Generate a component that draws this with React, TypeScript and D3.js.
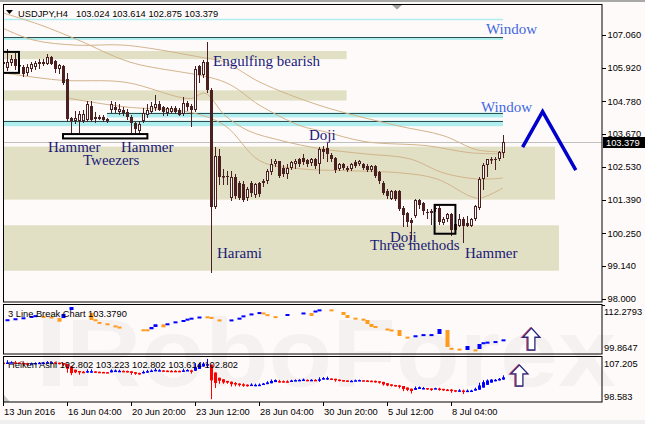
import React from 'react';
import * as d3 from 'd3';

const W = 645;
const H = 424;

// ---- USDJPY H4 OHLC (bar 0 = 13 Jun 2016 12:00) ----
const opens = [106.06,105.94,106.10,106.23,105.99,105.96,105.77,105.91,105.96,106.12,106.06,106.08,106.29,106.17,105.91,106.00,105.56,104.22,104.12,104.12,104.12,104.15,104.64,104.26,104.26,104.26,104.18,104.47,104.58,104.41,104.49,104.41,104.24,104.05,103.78,104.12,104.30,104.43,104.55,104.70,104.58,104.39,104.43,104.55,104.50,104.36,104.74,104.62,104.47,106.00,105.68,106.14,105.16,101.16,102.91,102.19,102.22,101.47,102.19,101.98,101.95,101.46,101.98,101.57,101.98,101.98,102.05,102.36,102.64,102.72,102.50,102.29,102.50,102.64,102.81,102.85,102.78,102.67,102.81,102.64,103.16,103.19,102.95,102.85,102.47,102.64,102.50,102.47,102.71,102.64,102.64,102.55,102.43,102.55,102.36,101.99,101.71,101.44,101.71,101.71,101.13,100.94,100.70,100.84,101.40,101.28,100.98,101.01,101.12,101.13,100.61,100.73,100.90,100.56,100.52,100.75,100.61,100.52,100.75,101.13,102.11,102.59,102.78,102.82,102.80,103.024];
const highs = [106.27,106.57,106.37,106.43,106.13,106.02,106.08,106.12,106.17,106.22,106.23,106.40,106.33,106.20,106.08,106.02,105.74,104.23,104.45,104.45,104.47,104.79,104.79,104.41,104.30,104.30,104.22,104.79,104.76,104.70,104.58,104.53,104.30,104.07,104.12,104.55,104.70,104.76,105.01,104.81,104.62,104.58,104.62,104.62,104.55,104.93,104.81,104.70,106.00,106.02,106.20,106.83,105.23,103.23,103.16,102.47,102.40,102.40,102.29,102.05,102.05,101.84,102.05,101.98,102.02,102.12,102.47,102.81,102.81,102.74,102.60,102.64,102.74,102.81,102.85,102.98,102.81,102.85,102.85,103.23,103.26,103.36,103.02,102.88,102.67,102.67,102.57,102.67,102.78,102.78,102.67,102.64,102.60,102.60,102.40,102.05,101.76,101.74,101.74,101.74,101.19,100.98,100.78,101.42,101.42,101.33,101.09,101.09,101.19,101.19,100.82,100.94,100.94,100.61,100.90,100.82,100.84,100.78,101.21,102.17,102.66,102.82,102.86,102.89,103.09,103.614];
const lows = [105.91,105.85,106.02,105.88,105.85,105.64,105.68,105.82,105.91,105.94,106.02,106.06,106.06,105.79,105.76,105.39,104.12,103.64,104.03,103.72,104.09,104.12,104.12,104.07,104.18,104.12,104.07,104.41,104.41,104.36,104.33,104.18,103.72,103.71,103.71,104.09,104.24,104.39,104.50,104.47,104.30,104.30,104.37,104.39,104.30,104.30,104.50,103.95,104.46,105.45,105.62,105.09,98.94,101.12,101.95,101.95,101.95,101.41,101.46,101.43,101.36,101.40,101.53,101.50,101.53,101.88,101.98,102.29,102.57,102.19,102.22,102.15,102.47,102.50,102.57,102.64,102.57,102.60,102.50,102.33,102.85,102.74,102.74,102.36,102.43,102.47,102.40,102.43,102.53,102.60,102.47,102.40,102.40,102.17,101.99,101.59,101.47,101.42,101.40,101.05,100.50,100.52,100.05,100.82,101.13,100.90,100.78,100.56,101.01,100.59,100.56,100.67,100.18,100.32,100.50,99.94,100.50,100.50,100.70,101.09,101.76,102.22,102.66,102.45,102.78,102.875];
const closes = [106.13,106.14,106.23,105.99,106.02,105.71,105.96,106.08,106.10,106.06,106.14,106.29,106.08,105.91,106.02,105.40,104.18,104.12,104.22,104.36,104.36,104.70,104.15,104.18,104.19,104.15,104.12,104.70,104.47,104.53,104.38,104.26,104.05,103.84,104.01,104.39,104.47,104.62,104.70,104.50,104.43,104.55,104.55,104.41,104.32,104.74,104.58,104.50,105.91,105.68,106.14,105.16,101.16,102.91,102.17,102.22,102.17,102.19,101.53,101.46,101.40,101.78,101.64,101.96,101.60,102.05,102.40,102.64,102.72,102.22,102.29,102.50,102.71,102.74,102.64,102.71,102.64,102.81,102.57,103.16,103.05,102.98,102.81,102.43,102.64,102.48,102.43,102.64,102.57,102.74,102.50,102.43,102.55,102.22,102.05,101.65,101.53,101.71,101.44,101.09,100.87,100.63,100.61,101.40,101.21,101.01,100.94,100.94,101.08,100.63,100.75,100.90,100.36,100.38,100.75,100.50,100.52,100.73,101.19,102.11,102.59,102.80,102.82,102.78,103.03,103.379];

const lastPrice = 103.379;
const priceTicks = [107.06, 105.92, 104.78, 103.67, 102.53, 101.39, 100.25, 99.14, 98.0];
const dateLabels = ['13 Jun 2016', '16 Jun 04:00', '20 Jun 20:00', '23 Jun 12:00', '28 Jun 04:00', '30 Jun 20:00', '5 Jul 12:00', '8 Jul 04:00'];
const dateIdx = [0, 16, 32, 48, 64, 80, 96, 112];

// support / resistance zones
const zoneTop = [106.51, 105.16, 103.23, 100.53];
const zoneBottom = [106.23, 104.81, 101.41, 98.97];
const zoneEnd = [85.9, 85.9, 138, 139];

// windows (gaps)
const gapTopPrice = 107.61;
const windowLevel = [106.98, 104.40, 104.12];
const windowBand = [106.89, 104.23, 103.93];
const windowFrom = [-1, 26, -1];
const windowTo = 125;

// moving averages [barIndex, price]
const maA: [number, number][] = [[-0.75,107.34],[7.5,106.89],[18.5,106.71],[30.5,106.71],[50.5,106.27],[55.5,106.13],[64.25,105.44],[79.25,104.64],[98.5,103.95],[110,103.61],[118.5,103.12],[125,103.05]];
const maB: [number, number][] = [[-0.75,107.85],[9.25,107.41],[18.75,106.89],[31.75,106.13],[55.5,105.44],[64.25,104.64],[74.25,103.95],[80.5,103.74],[90.5,103.40],[106,103.26],[116.75,103.02],[125,102.98]];
const maC: [number, number][] = [[-0.75,105.78],[14.25,105.51],[30.5,105.44],[46.75,104.88],[50.5,105.06],[55.5,104.30],[61.25,103.78],[69.75,103.43],[79.25,103.16],[90.5,102.98],[101.75,102.81],[110,102.33],[118.5,102.12],[125,102.15]];
const maD: [number, number][] = [[16,104.9],[30,104.6],[47,104.4],[55.5,103.95],[64.25,102.74],[74.25,102.47],[86.75,102.40],[99.25,102.33],[108.5,102.12],[116.75,101.53],[119.25,101.46],[125,101.81]];

// boxes [fromIdx, toIdx, topPrice, bottomPrice]
const boxes: [number, number, number, number][] = [[-0.1, 4.0, 106.48, 105.76], [107.9, 113.1, 101.23, 100.24]];
const tweezerBar: [number, number, number, number] = [15, 36.1, 103.66, 103.51];

// annotations
const noteText = ['Engulfing bearish', 'Hammer', 'Hammer', 'Tweezers', 'Doji', 'Harami', 'Doji', 'Three methods', 'Hammer'];
const noteIdx = [52.5, 11.25, 29.5, 20, 76.5, 53.5, 96.75, 91.75, 115.5];
const notePrice = [105.99, 103.05, 103.05, 102.60, 103.47, 99.39, 99.94, 99.67, 99.39];
const windowNoteIdx = [120.75, 119.5];
const windowNotePrice = [107.09, 104.43];

// forecast zigzag
const zigzag: [number, number][] = [[129.9, 103.21], [134.9, 104.43], [143.2, 102.42]];

// 3 Line Break indicator marks
const lbIndex = [1,3,5,7,8,10,12,14,15,17,22,23,24,26,28,29,35,36,37,38,40,41,43,45,46,47,49,51,52,54,57,59,60,62,64,65,66,68,71,75,77,78,79,82,85,86,88,90,91,92,93,96,97,99,101,103,105,107,109,111,112,114,116,118,119,120,121,123,125];
const lbFrom = [108.2,108.5,108.75,109.1,109.3,109.45,109.3,108.9,108.9,110.99,110.2,108.6,107.9,107.55,107.0,106.7,106.0,106.0,106.0,106.6,107.3,107.2,107.7,108.05,108.4,108.65,108.95,109.35,109.2,108.55,108.2,108.65,109.25,109.75,110.1,110.35,109.9,109.4,109.5,110.0,110.2,110.5,110.8,111.15,110.47,109.7,109.0,108.75,108.4,107.37,106.85,106.2,105.95,105.81,104.1,104.1,104.4,104.4,104.78,105.81,101.2,101.0,100.64,100.8,100.9,102.3,102.45,102.6,103.05];
const lbTo = [108.6,108.85,109.1,109.45,109.65,109.1,108.95,107.95,109.95,111.76,108.4,108.3,107.6,107.25,106.7,106.4,105.7,105.8,106.6,107.3,106.5,107.55,108.05,108.4,108.75,109.0,109.3,109.0,108.9,108.2,108.55,109.0,109.6,110.1,110.45,110.05,109.55,109.05,109.95,110.35,109.45,110.85,111.15,110.8,109.7,108.92,108.7,108.4,107.37,106.6,106.5,105.9,105.65,104.26,103.8,104.45,104.75,104.75,106.07,101.42,100.9,100.7,101.68,100.5,102.19,102.65,102.8,102.95,103.4];
const lbMax = 112.2793;
const lbMin = 99.8647;
const haMax = 107.205;
const haMin = 98.583;

// arrows in sub windows [idx, tipValue, baseValue]
const lbArrow: [number, number, number] = [132.1, 106.33, 100.64];
const haArrow: [number, number, number] = [129.1, 105.64, 101.52];

const BG = '#FFFAFA';
const CANDLE = '#4a2020';
const ZONE = '#E1E0C4';
const CYAN = '#AEEEEE';
const DARK = '#2F4F4F';
const TAN = '#D2B48C';
const NOTE = '#1a1a78';
const WM = '#F5F1F1';
const SANS = "'Liberation Sans', Arial, sans-serif";
const SERIF = "'Liberation Serif', 'Times New Roman', serif";

function arrowPath(cx: number, tip: number, base: number) {
  const hw = 8.5, sw = 3.5;
  const hh = (base - tip) * 0.42;
  return `M${cx},${tip} L${cx + hw},${tip + hh} L${cx + sw},${tip + hh} L${cx + sw},${base} L${cx - sw},${base} L${cx - sw},${tip + hh} L${cx - hw},${tip + hh} Z`;
}

export default function App() {
  const x = d3.scaleLinear().domain([0, 125]).range([3, 503]);
  const yM = d3.scaleLinear().domain([98.0, 107.06]).range([299, 35]);
  const yLB = d3.scaleLinear().domain([lbMin, lbMax]).range([353, 305]);
  const yHA = d3.scaleLinear().domain([haMin, haMax]).range([401, 357]);

  const maLine = d3.line<[number, number]>().x(d => x(d[0])).y(d => yM(d[1])).curve(d3.curveCatmullRom);
  const zzLine = d3.line<[number, number]>().x(d => x(d[0])).y(d => yM(d[1]));

  // Heiken Ashi computed from OHLC
  const ha: { o: number; h: number; l: number; c: number }[] = [];
  opens.forEach((o, i) => {
    const c = (o + highs[i] + lows[i] + closes[i]) / 4;
    const op = i === 0 ? (o + closes[i]) / 2 : (ha[i - 1].o + ha[i - 1].c) / 2;
    ha.push({ o: op, c, h: Math.max(highs[i], op, c), l: Math.min(lows[i], op, c) });
  });

  const px = (v: number) => Math.round(v);

  return (
    <div style={{ width: W, height: H }}>
      <style>{'body{margin:0}'}</style>
      <svg width={W} height={H} style={{ display: 'block' }}>
        <defs>
          <clipPath id="mainClip"><rect x={3} y={4} width={599} height={298} /></clipPath>
          <clipPath id="lbClip"><rect x={3} y={304} width={599} height={50} /></clipPath>
          <clipPath id="haClip"><rect x={3} y={356} width={599} height={46} /></clipPath>
        </defs>
        <rect x={0} y={0} width={W} height={H} fill={BG} />
        <rect x={0} y={0} width={W} height={2} fill="#A8A8A8" />
        <rect x={0} y={420} width={W} height={4} fill="#EFEFEF" />

        {/* watermark (logo) */}
        <rect x={43} y={312} width={17} height={74} fill={WM} />
        <text x={66} y={386} fontFamily={SANS} fontWeight="bold" fontSize={96} fill={WM} textLength={550} lengthAdjust="spacingAndGlyphs">RoboForex</text>

        {/* ---------- main pane ---------- */}
        <g clipPath="url(#mainClip)">
          {zoneTop.map((t, i) => (
            <rect key={'z' + i} x={x(-1)} y={yM(t)} width={x(zoneEnd[i]) - x(-1)} height={yM(zoneBottom[i]) - yM(t)} fill={ZONE} />
          ))}
          <line x1={x(-1)} x2={x(windowTo)} y1={px(yM(gapTopPrice)) + 0.5} y2={px(yM(gapTopPrice)) + 0.5} stroke={CYAN} strokeWidth={1.5} />
          {windowLevel.map((lv, i) => (
            <g key={'w' + i}>
              <rect x={x(windowFrom[i])} y={yM(lv)} width={x(windowTo) - x(windowFrom[i])} height={yM(windowBand[i]) - yM(lv)} fill={CYAN} />
              <line x1={x(windowFrom[i])} x2={x(windowTo)} y1={px(yM(lv)) + 0.5} y2={px(yM(lv)) + 0.5} stroke={DARK} strokeWidth={1} />
            </g>
          ))}
          <line x1={3} x2={602} y1={px(yM(lastPrice)) + 0.5} y2={px(yM(lastPrice)) + 0.5} stroke="#C0C0C0" strokeWidth={1} />
          {[maA, maB, maC, maD].map((m, i) => (
            <path key={'ma' + i} d={maLine(m) || ''} fill="none" stroke={TAN} strokeWidth={1} />
          ))}
          {opens.map((o, i) => {
            const cx = px(x(i)) + 0.5;
            const c = closes[i];
            const bull = c >= o;
            const yT = px(yM(Math.max(o, c)));
            const yB = px(yM(Math.min(o, c)));
            const hgt = Math.max(1, yB - yT);
            return (
              <g key={'c' + i}>
                <line x1={cx} x2={cx} y1={px(yM(highs[i]))} y2={px(yM(lows[i])) + 1} stroke={CANDLE} strokeWidth={1} />
                {bull ? (
                  <rect x={cx - 1} y={yT + 0.5} width={2} height={Math.max(0.5, hgt - 1)} fill={BG} stroke={CANDLE} strokeWidth={1} />
                ) : (
                  <rect x={cx - 1.5} y={yT} width={3} height={hgt} fill={CANDLE} />
                )}
              </g>
            );
          })}
          {boxes.map((b, i) => (
            <rect key={'b' + i} x={x(b[0])} y={yM(b[2])} width={x(b[1]) - x(b[0])} height={yM(b[3]) - yM(b[2])} fill="none" stroke="#000" strokeWidth={2} />
          ))}
          <rect x={x(tweezerBar[0])} y={yM(tweezerBar[2])} width={x(tweezerBar[1]) - x(tweezerBar[0])} height={yM(tweezerBar[3]) - yM(tweezerBar[2])} fill="#fff" stroke="#000" strokeWidth={2} />
          {noteText.map((t, i) => (
            <text key={'n' + i} x={x(noteIdx[i])} y={yM(notePrice[i])} fontFamily={SERIF} fontSize={15} fill={NOTE}>{t}</text>
          ))}
          {windowNoteIdx.map((v, i) => (
            <text key={'wn' + i} x={x(v)} y={yM(windowNotePrice[i])} fontFamily={SERIF} fontSize={15} fill="#4169E1">Window</text>
          ))}
          <path d={zzLine(zigzag) || ''} fill="none" stroke="#0000CD" strokeWidth={3.5} strokeLinejoin="miter" />
        </g>
        <polygon points="392,5 402,5 397,9.5" fill="#A0A0A0" />
        <polygon points="6,10 13,10 9.5,14" fill="#000" />
        <text x={18} y={16.5} fontFamily={SANS} fontSize={9.3} fill="#000">USDJPY,H4</text>
        <text x={76} y={16.5} fontFamily={SANS} fontSize={9.3} fill="#000">103.024 103.614 102.875 103.379</text>
        <rect x={3.5} y={4.5} width={598.5} height={297.5} fill="none" stroke="#000" strokeWidth={1} />

        {/* price axis */}
        {priceTicks.map((t, i) => (
          <g key={'pt' + i}>
            <line x1={602} x2={606} y1={px(yM(t)) + 0.5} y2={px(yM(t)) + 0.5} stroke="#000" />
            <text x={607.5} y={yM(t)} dy="0.35em" fontFamily={SANS} fontSize={9.3} fill="#000">{t.toFixed(3)}</text>
          </g>
        ))}
        <rect x={603} y={px(yM(lastPrice)) - 5} width={42} height={11} fill="#000" />
        <text x={606} y={yM(lastPrice)} dy="0.38em" fontFamily={SANS} fontSize={9.3} fill="#fff">{lastPrice.toFixed(3)}</text>

        {/* ---------- 3 line break pane ---------- */}
        <g clipPath="url(#lbClip)">
          {lbIndex.map((idx, i) => {
            const a = yLB(lbFrom[i]);
            const b = yLB(lbTo[i]);
            const up = lbTo[i] > lbFrom[i];
            const top = Math.min(a, b);
            const h = Math.max(2, Math.abs(a - b));
            return <rect key={'lb' + i} x={px(x(idx)) - 1.5} y={top} width={4} height={h} fill={up ? '#0000FF' : '#FF9A1A'} />;
          })}
          <path d={arrowPath(x(lbArrow[0]) - 1, yLB(lbArrow[1]), yLB(lbArrow[2]))} fill="#fff" stroke="#E05060" strokeWidth={1.5} />
          <path d={arrowPath(x(lbArrow[0]), yLB(lbArrow[1]), yLB(lbArrow[2]))} fill="#fff" stroke="#2A2A80" strokeWidth={1.3} />
        </g>
        <text x={8} y={317} fontFamily={SANS} fontSize={9.3} fill="#000">3 Line Break Chart 103.3790</text>
        <rect x={3.5} y={304.5} width={598.5} height={49.5} fill="none" stroke="#000" strokeWidth={1} />
        <line x1={602} x2={605} y1={305.5} y2={305.5} stroke="#000" />
        <text x={604} y={312} dy="0.35em" fontFamily={SANS} fontSize={9.3} fill="#000">112.2793</text>
        <text x={604} y={348} dy="0.35em" fontFamily={SANS} fontSize={9.3} fill="#000">99.8647</text>

        {/* ---------- Heiken Ashi pane ---------- */}
        <g clipPath="url(#haClip)">
          {ha.map((d, i) => {
            const cx = px(x(i)) + 0.5;
            const bear = d.o > d.c;
            const col = bear ? '#FF0000' : '#0000FF';
            const top = yHA(Math.max(d.o, d.c));
            const bot = yHA(Math.min(d.o, d.c));
            return (
              <g key={'ha' + i}>
                <line x1={cx} x2={cx} y1={yHA(d.h)} y2={yHA(d.l)} stroke={col} strokeWidth={1} />
                <rect x={cx - 1.5} y={top} width={3} height={Math.max(1.5, bot - top)} fill={col} />
              </g>
            );
          })}
          <path d={arrowPath(x(haArrow[0]) - 1, yHA(haArrow[1]), yHA(haArrow[2]))} fill="#fff" stroke="#E05060" strokeWidth={1.5} />
          <path d={arrowPath(x(haArrow[0]), yHA(haArrow[1]), yHA(haArrow[2]))} fill="#fff" stroke="#2A2A80" strokeWidth={1.3} />
          <polygon points="4,402 4,395 10,402" fill="#C8C8C8" />
        </g>
        <text x={8} y={368} fontFamily={SANS} fontSize={9.3} fill="#000">Heiken Ashi 102.802 103.223 102.802 103.614 102.802</text>
        <rect x={3.5} y={356.5} width={598.5} height={45.5} fill="none" stroke="#000" strokeWidth={1} />
        <text x={604} y={363.5} dy="0.35em" fontFamily={SANS} fontSize={9.3} fill="#000">107.205</text>
        <text x={604} y={396.5} dy="0.35em" fontFamily={SANS} fontSize={9.3} fill="#000">98.583</text>

        {/* date axis */}
        {dateIdx.map((d, i) => (
          <g key={'d' + i}>
            <line x1={px(x(d)) + 0.5} x2={px(x(d)) + 0.5} y1={402} y2={406} stroke="#000" />
            <text x={px(x(d)) + 1} y={415} fontFamily={SANS} fontSize={9.3} fill="#000">{dateLabels[i]}</text>
          </g>
        ))}
      </svg>
    </div>
  );
}
